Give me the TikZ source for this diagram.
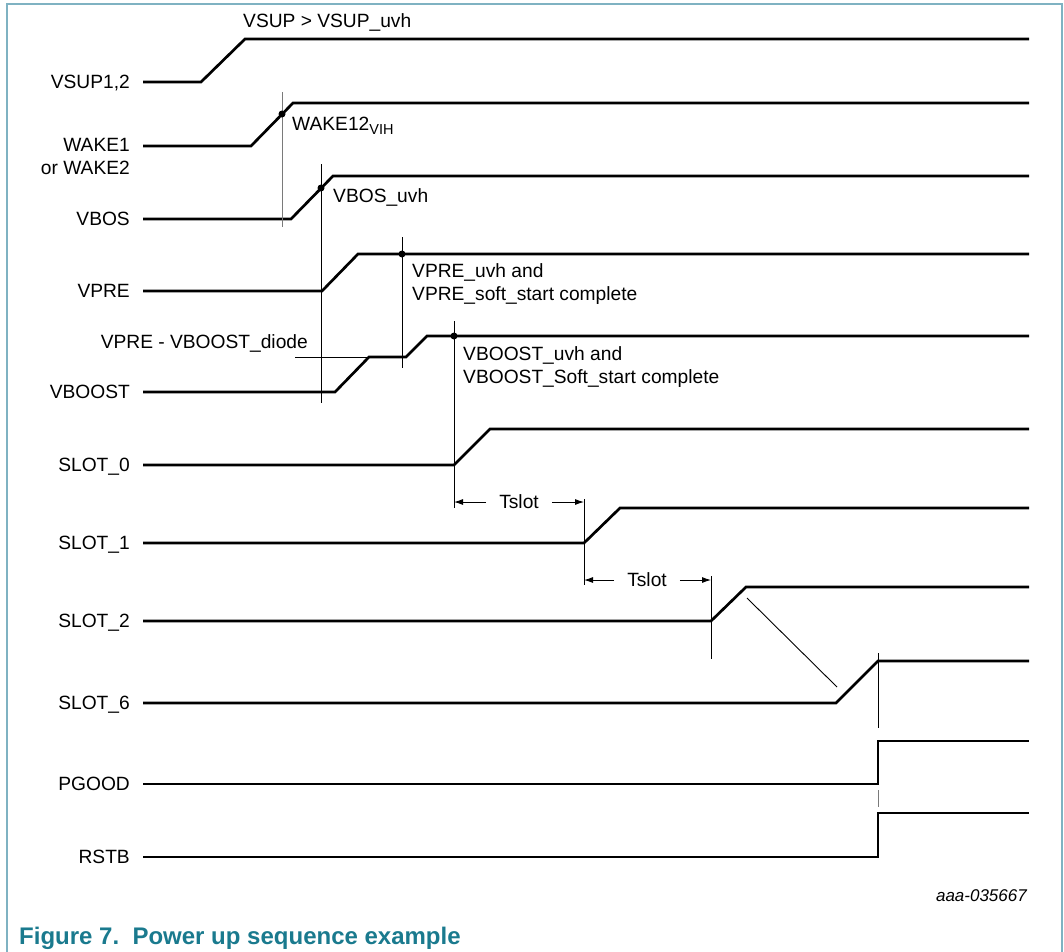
\documentclass[tikz,border=0pt]{standalone}
\usepackage{fontspec}
\setmainfont{Liberation Sans}
\usepackage{xcolor}
\definecolor{framebl}{HTML}{7FB2C2}
\definecolor{capteal}{HTML}{1A7A8E}
\definecolor{markgrey}{HTML}{7A7A7A}
\usepackage{tikz}
\usetikzlibrary{arrows.meta,positioning,calc}

\begin{document}
\begin{tikzpicture}[x=1pt, y=-1pt, font=\fontsize{19.2}{23}\selectfont,
  wave/.style={line width=2.7pt, line join=miter},
  markline/.style={line width=0.9pt},
  sig/.style={anchor=base east, inner sep=0pt},
  note/.style={anchor=base west, inner sep=0pt},
  block/.style={anchor=north west, inner sep=0pt, align=left},
  dimarr/.style={-{Latex[length=9pt, width=6pt]}, line width=0.9pt},
  dot/.style={circle, fill, inner sep=0pt, minimum size=7pt}]
\useasboundingbox (0,0) rectangle (1064,951);
\draw[framebl, line width=1.2pt] (7,960) -- (7,4) -- (1062,4) -- (1062,960);
\node[sig] (lvsup) at (130,88) {VSUP1,2};
\node[anchor=north east, inner sep=0pt, align=right] (lwake) at (130,138) {WAKE1\\or WAKE2};
\node[sig] (lvbos) at (130,225) {VBOS};
\node[sig] (lvpre) at (130,297) {VPRE};
\node[sig] (lvboost) at (130,398) {VBOOST};
\node[sig] (lslot0) at (130,471) {SLOT\_0};
\node[sig] (lslot1) at (130,549) {SLOT\_1};
\node[sig] (lslot2) at (130,627) {SLOT\_2};
\node[sig] (lslot6) at (130,709) {SLOT\_6};
\node[sig] (lpgood) at (130,790) {PGOOD};
\node[sig] (lrstb) at (130,863) {RSTB};
\draw[wave] (143,82) -- (201,82) -- (245,39) -- (1029,39);
\draw[wave] (143,146) -- (251,146) -- (293,103) -- (1029,103);
\draw[wave] (143,219) -- (291,219) -- (333,176) -- (1029,176);
\draw[wave] (143,291) -- (322,291) -- (358,254) -- (1029,254);
\draw[wave] (143,392) -- (335,392) -- (369,357) -- (406,357) -- (427,336) -- (1029,336);
\draw[wave] (143,465) -- (454,465) -- (490,429) -- (1029,429);
\draw[wave] (143,543) -- (584,543) -- (620,508) -- (1029,508);
\draw[wave] (143,621) -- (711,621) -- (746,587) -- (1029,587);
\draw[wave] (143,703) -- (836,703) -- (878,661) -- (1029,661);
\draw[wave] (143,784) -- (878,784) -- (878,741) -- (1029,741);
\draw[wave] (143,857) -- (878,857) -- (878,813) -- (1029,813);
\coordinate (wakemk) at (282,92);
\coordinate (vbosmk) at (321,164);
\coordinate (vpremk) at (402,237);
\coordinate (vboostmk) at (454,321);
\coordinate (slot1mk) at (584,499);
\coordinate (slot2mk) at (711,576);
\coordinate (slot6mk) at (878,653);
\draw[markline, markgrey] (wakemk) -- ++(0,135);
\draw[markline] (vbosmk) -- ++(0,239);
\draw[markline] (vpremk) -- ++(0,131);
\draw[markline] (vboostmk) -- ++(0,187);
\draw[markline] (slot1mk) -- ++(0,86);
\draw[markline] (slot2mk) -- ++(0,83);
\draw[markline] (slot6mk) -- ++(0,75);
\draw[markline, markgrey] (878,790) -- (878,807);
\draw[markline] (295,357) -- (369,357);
\draw[markline] (747,598) -- (837,687);
\node[dot] at (282,114) {};
\node[dot] at (321,188) {};
\node[dot] at (402,254) {};
\node[dot] at (454,336) {};
\node[note] (nvsup) at (243,27) {VSUP > VSUP\_uvh};
\node[note] (nwake) at (292,130) {WAKE12\raisebox{-4pt}{\fontsize{14.5}{15}\selectfont VIH}};
\node[note] (nvbos) at (333,202) {VBOS\_uvh};
\node[block] (nvpre) at (412,263) {VPRE\_uvh and\\VPRE\_soft\_start complete};
\node[block] (nvboost) at (463,346) {VBOOST\_uvh and\\VBOOST\_Soft\_start complete};
\node[anchor=base east, inner sep=0pt] (ndiode) at (308,348) {VPRE - VBOOST\_diode};
\node[inner xsep=13pt, inner ysep=0pt] (tslota) at (519,502) {Tslot};
\node[inner xsep=13pt, inner ysep=0pt] (tslotb) at (647,580) {Tslot};
\draw[dimarr] (tslota.west) -- (tslota.west -| vboostmk);
\draw[dimarr] (tslota.east) -- (tslota.east -| slot1mk);
\draw[dimarr] (tslotb.west) -- (tslotb.west -| slot1mk);
\draw[dimarr] (tslotb.east) -- (tslotb.east -| slot2mk);
\node[anchor=base east, inner sep=0pt, font=\fontsize{17}{20}\selectfont\itshape] (figid) at (1027,901) {aaa-035667};
\node[anchor=base west, inner sep=0pt, text=capteal, font=\fontsize{24}{28}\selectfont\bfseries] (caption) at (19,944) {Figure 7.\ \ Power up sequence example};
\end{tikzpicture}
\end{document}
